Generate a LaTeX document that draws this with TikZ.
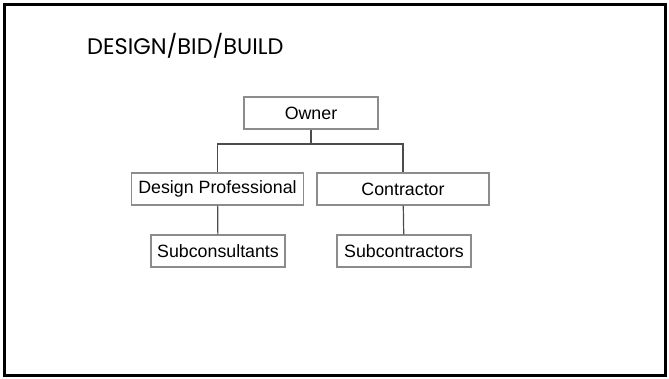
\documentclass[tikz,border=0pt]{standalone}
\usepackage{fontspec}
\setmainfont{Liberation Sans}
\newfontfamily\titlefont{Poppins}
\usetikzlibrary{positioning}

\begin{document}
\begin{tikzpicture}[x=1pt,y=-1pt,
  orgbox/.style={draw=gray!90, line width=1.1pt, fill=white, inner sep=0pt,
    minimum height=32pt, font=\fontsize{17.8}{20}\selectfont},
  link/.style={draw=black!70, line width=1.2pt}]
\useasboundingbox (0,0) rectangle (669,378);
% slide frame
\draw[line width=2.6pt] (4.5,4.5) rectangle (665.5,375.5);
\node[anchor=base west, inner sep=0pt, font=\titlefont\fontsize{22.5}{26}\selectfont] (title) at (87,54) {DESIGN/BID/BUILD};

\node[orgbox, minimum width=134pt] (owner) at (311,113) {Owner};
\node[orgbox, minimum width=172pt] (design) at (217.5,189) {Design Professional};
\node[orgbox, minimum width=172pt] (contractor) at (403,189) {Contractor};
\node[orgbox, minimum width=134pt] (subcons) at (218,251) {Subconsultants};
\node[orgbox, minimum width=134pt] (subcontr) at (404,251) {Subcontractors};

\coordinate (bar) at (311,144);
\draw[link] (owner) -- (bar);
\draw[link] (bar) -| (design);
\draw[link] (bar) -| (contractor);
\draw[link] (design) -- (subcons);
\draw[link] (contractor) -- (subcontr);
\end{tikzpicture}
\end{document}
